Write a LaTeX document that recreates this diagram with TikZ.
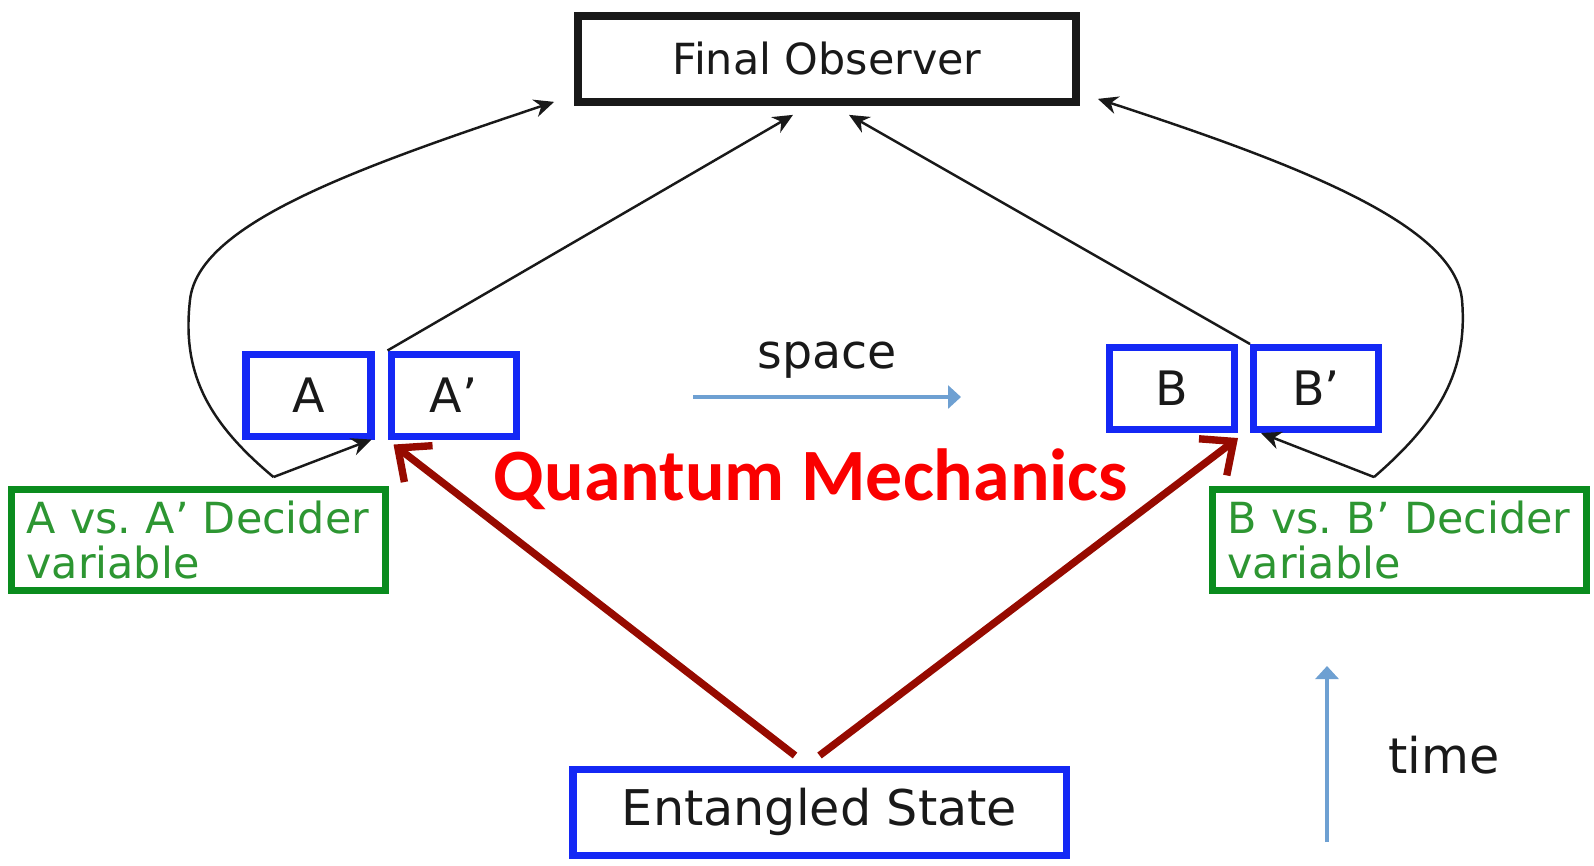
\documentclass[tikz,border=0pt]{standalone}
\usepackage{fontspec}
\setmainfont{DejaVu Sans}
\newfontfamily\calibrifont{Carlito}
\usepackage{tikz}
\usetikzlibrary{arrows.meta,positioning,calc}
\definecolor{boxblue}{RGB}{20,40,245}
\definecolor{decline}{RGB}{10,140,30}
\definecolor{dectext}{RGB}{45,150,50}
\definecolor{arrred}{RGB}{150,10,0}
\definecolor{qmred}{RGB}{250,0,0}
\definecolor{axisblue}{RGB}{110,160,210}
\definecolor{ink}{RGB}{25,25,25}
\frenchspacing

\begin{document}
\begin{tikzpicture}[
  box/.style={draw=boxblue,line width=2pt,minimum height=0.82cm,
    align=center,inner sep=2pt,text=ink},
  letter/.style={box,minimum width=1.25cm,font=\fontsize{13.5}{15}\selectfont},
  obsbox/.style={draw=ink,line width=2.2pt,minimum width=4.98cm,
    minimum height=0.86cm,font=\fontsize{12.2}{14}\selectfont,text=ink},
  decider/.style={draw=decline,line width=2pt,minimum height=0.93cm,
    text width=3.44cm,inner xsep=0.15cm,align=left,text=dectext,
    font=\fontsize{12.2}{12.6}\selectfont},
  link/.style={-{Stealth[length=2mm,width=1.8mm]},line width=0.7pt,ink},
  qmarr/.style={-{Straight Barb[length=2.6mm,width=4.6mm]},line width=2.1pt,arrred},
  axis/.style={-{Triangle[length=1.3mm,width=2.3mm]},line width=0.9pt,axisblue},
]
  \useasboundingbox (0,0) rectangle (15.94,-8.65);

  \node[obsbox] (obs) at (8.27,-0.59) {Final Observer};

  \node[letter] (A) at (3.085,-3.95) {A};
  \node[letter,right=0.13cm of A] (Ap) {A’};
  \node[letter] (B) at (11.72,-3.885) {B};
  \node[letter,right=0.12cm of B] (Bp) {B’};

  \node[decider] (decA) at (1.985,-5.40) {A vs. A’ Decider\\variable};
  \node[decider] (decB) at (13.995,-5.40) {B vs. B’ Decider\\variable};

  \node[box,minimum width=4.93cm,minimum height=0.86cm,
    font=\fontsize{14}{16}\selectfont] (ent) at (8.195,-8.12) {Entangled State};

  \node[font=\fontsize{21}{24}\calibrifont\bfseries,text=qmred,anchor=base]
    (qm) at (8.11,-5.00) {Quantum Mechanics};

  % space and time axes
  \coordinate (sp0) at (6.93,-3.97);
  \coordinate (sp1) at (9.61,-3.97);
  \draw[axis] (sp0) -- (sp1);
  \node[font=\fontsize{13.5}{15}\selectfont,text=ink,anchor=base] (spacelbl) at (8.27,-3.68) {space};
  \coordinate (t0) at (13.27,-8.42);
  \coordinate (t1) at (13.27,-6.66);
  \draw[axis] (t0) -- (t1);
  \node[font=\fontsize{14}{16}\selectfont,text=ink,anchor=base] (timelbl) at (14.44,-7.73) {time};

  % decider outputs
  \coordinate (da) at ([xshift=0.75cm,yshift=0.09cm]decA.north);
  \coordinate (db) at ([xshift=-0.255cm,yshift=0.09cm]decB.north);
  \draw[link] (da) -- ([xshift=-0.03cm]A.south east);
  \draw[link] (db) -- ([xshift=0.11cm]Bp.south west);
  \draw[link] (da) .. controls (2.05,-4.20) and (1.82,-3.70) .. (1.90,-3.00)
    .. controls (1.98,-2.25) and (3.50,-1.70) .. ([xshift=-0.2cm,yshift=0.04cm]obs.south west);
  \draw[link] (db) .. controls (14.40,-4.20) and (14.68,-3.70) .. (14.62,-3.00)
    .. controls (14.55,-2.25) and (13.00,-1.65) .. ([xshift=0.18cm,yshift=0.07cm]obs.south east);

  \draw[link] (Ap.north west) -- ([xshift=-0.34cm,yshift=-0.09cm]obs.south);
  \draw[link] (Bp.north west) -- ([xshift=0.22cm,yshift=-0.09cm]obs.south);

  % entangled pair
  \draw[qmarr] ([xshift=-0.245cm,yshift=0.1cm]ent.north) -- ([xshift=0.06cm,yshift=-0.05cm]Ap.south west);
  \draw[qmarr] ([yshift=0.1cm]ent.north) -- ([yshift=-0.05cm]B.south east);
\end{tikzpicture}
\end{document}
